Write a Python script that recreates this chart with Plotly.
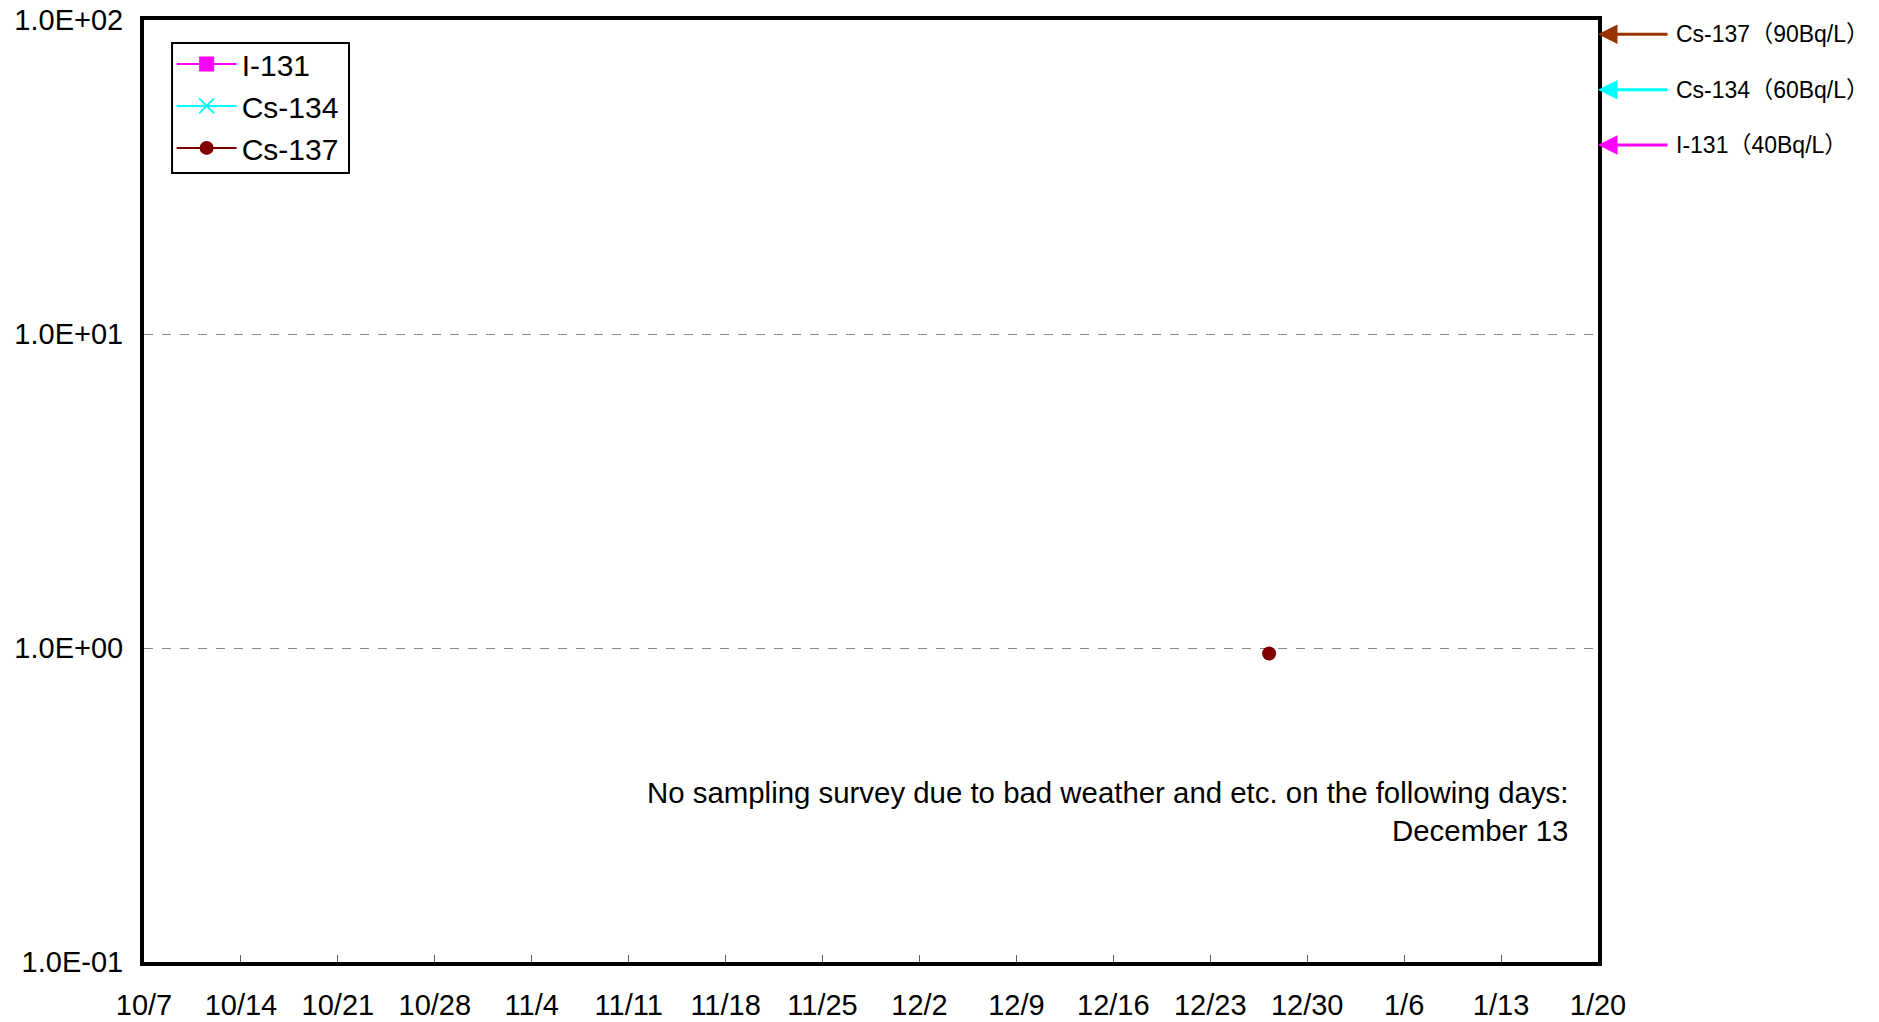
import math
import plotly.graph_objects as go

# ---- data ----
sample_dates = ["2013-12-27 06:00"]
i131_values = [None]
cs134_values = [None]
cs137_values = [0.96]

limit_names = ["Cs-137", "Cs-134", "I-131"]
limit_values = [90, 60, 40]
limit_colors = ["#993300", "#00FFFF", "#FF00FF"]

y_tickvals = [0.1, 1, 10, 100]
y_ticktext = ["1.0E-01", "1.0E+00", "1.0E+01", "1.0E+02"]

x_start = "2013-10-07"
x_end = "2014-01-20"

note_lines = ["No sampling survey due to bad weather and etc. on the following days:",
              "December 13"]

FONT = "Liberation Sans, Arial, Noto Sans CJK JP, sans-serif"

fig = go.Figure()
fig.add_trace(go.Scatter(x=sample_dates, y=i131_values, name="I-131",
                         mode="lines+markers",
                         line=dict(color="#FF00FF", width=2),
                         marker=dict(symbol="square", size=15, color="#FF00FF")))
fig.add_trace(go.Scatter(x=sample_dates, y=cs134_values, name="Cs-134",
                         mode="lines+markers",
                         line=dict(color="#00FFFF", width=2),
                         marker=dict(symbol="x-thin", size=15,
                                     line=dict(color="#00FFFF", width=2), color="#00FFFF")))
fig.add_trace(go.Scatter(x=sample_dates, y=cs137_values, name="Cs-137",
                         mode="lines+markers",
                         line=dict(color="#800000", width=2),
                         marker=dict(symbol="circle", size=14, color="#800000")))

annotations = []
for name, val, col in zip(limit_names, limit_values, limit_colors):
    annotations.append(dict(xref="paper", yref="y", x=1, y=math.log10(val),
                            text="", showarrow=True, ax=71, ay=0,
                            arrowcolor=col, arrowwidth=3, arrowhead=2, arrowsize=1.3,
                            standoff=0))
    annotations.append(dict(xref="paper", yref="y", x=1, y=math.log10(val),
                            text=f"{name}（{val}Bq/L）", showarrow=False,
                            xanchor="left", yanchor="middle", xshift=76,
                            font=dict(family=FONT, size=23, color="black")))

annotations.append(dict(xref="paper", yref="paper", x=0.981, y=0.16,
                        text="<br>".join(note_lines), showarrow=False,
                        xanchor="right", yanchor="middle", align="right",
                        font=dict(family=FONT, size=29.4, color="black")))

# legend frame
shapes = [dict(type="rect", xref="paper", yref="paper",
               x0=0.0193, x1=0.141, y0=0.8376, y1=0.9756,
               line=dict(color="black", width=2), fillcolor="white", layer="above")]

fig.update_layout(
    width=1879, height=1022,
    margin=dict(l=144, r=281, t=20, b=60, autoexpand=False),
    paper_bgcolor="white", plot_bgcolor="white",
    font=dict(family=FONT, size=29, color="black"),
    showlegend=True,
    legend=dict(x=0.019, y=0.981, xanchor="left", yanchor="top",
                bgcolor="rgba(0,0,0,0)", borderwidth=0,
                font=dict(family=FONT, size=30, color="black"),
                tracegroupgap=0, itemwidth=60),
    annotations=annotations,
    shapes=shapes,
)

fig.update_xaxes(type="date", range=[x_start, x_end],
                 tick0=x_start, dtick=7 * 86400000, tickformat="%-m/%-d",
                 ticks="inside", ticklen=7, tickcolor="#606060", tickwidth=1,
                 showgrid=False, zeroline=False, automargin=False,
                 showline=True, linecolor="black", linewidth=4, mirror=True,
                 tickfont=dict(family=FONT, size=29, color="black"),
                 ticklabelstandoff=14)
fig.update_yaxes(type="log", range=[-1, 2],
                 tickvals=y_tickvals, ticktext=y_ticktext,
                 ticks="", showgrid=True, gridcolor="#888888", griddash="dash", gridwidth=1,
                 zeroline=False, automargin=False,
                 showline=True, linecolor="black", linewidth=4, mirror=True,
                 tickfont=dict(family=FONT, size=29, color="black"),
                 ticklabelstandoff=11)

fig.write_html("out.html", config={"displayModeBar": False},
               post_script="document.body.style.margin='0';document.body.style.overflow='hidden';")
